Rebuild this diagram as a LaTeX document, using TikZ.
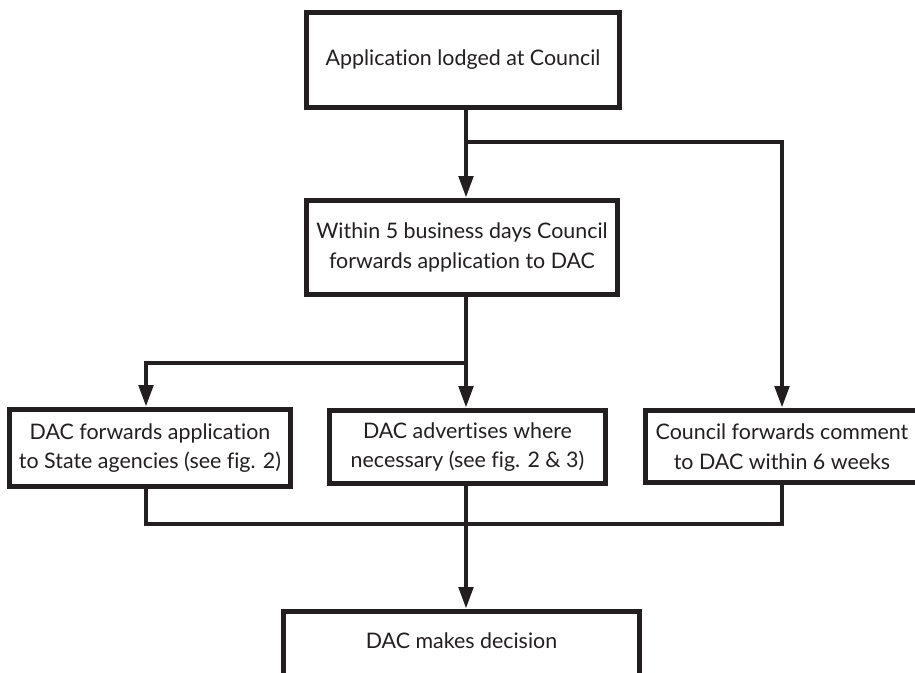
\documentclass[tikz,border=0pt]{standalone}
\usepackage{fontspec}
\setmainfont{Lato}[Ligatures=NoCommon]
\usetikzlibrary{arrows.meta}
\definecolor{ink}{HTML}{231F20}
\tikzset{
  stagebox/.style={draw=ink, line width=5pt, fill=white, inner sep=0pt,
    align=center, text=ink, font=\fontsize{21.4}{29.5}\selectfont},
  link/.style={draw=ink, line width=4.8pt, line join=miter},
  arrowlink/.style={link, -{Triangle[length=22pt,width=14pt]}},
}
\begin{document}
\begin{tikzpicture}[x=1pt,y=-1pt]
  \useasboundingbox (0,0) rectangle (915,672);
  \clip (0,0) rectangle (915,672);

  % stages of the process
  \node[stagebox, minimum width=313pt, minimum height=95pt] (lodge) at (463,60)
    {Application lodged at Council};
  \node[stagebox, minimum width=311pt, minimum height=94pt] (fwd) at (462,247.5)
    {Within 5 business days Council\\forwards application to DAC};
  \node[stagebox, minimum width=281pt, minimum height=77pt] (agency) at (150,448)
    {DAC forwards application\\to State agencies (see fig. 2)};
  \node[stagebox, minimum width=276pt, minimum height=73pt] (advert) at (467.5,447)
    {DAC advertises where\\necessary (see fig. 2 \& 3)};
  \node[stagebox, minimum width=273pt, minimum height=72pt] (comment) at (782,446.5)
    {Council forwards comment\\to DAC within 6 weeks};
  \node[stagebox, minimum width=356pt, minimum height=86pt, text height=15pt, text depth=28pt]
    (decide) at (461.5,654.5) {DAC makes decision};

  % routing columns and junctions
  \coordinate (cx) at (466,0);
  \coordinate (lx) at (146,0);
  \coordinate (split1) at (466,142);
  \coordinate (split2) at (466,363);
  \coordinate (merge) at (466,524);

  % connectors
  \draw[arrowlink] (lodge.south -| cx) -- (fwd.north -| cx);
  \draw[arrowlink] (split1) -| (comment.north);
  \draw[link] (fwd.south -| cx) -- (split2);
  \draw[arrowlink] (split2) -- (advert.north -| cx);
  \draw[arrowlink] (split2) -| (agency.north -| lx);
  \draw[link] (agency.south -| lx) |- (merge -| comment.south) -- (comment.south);
  \draw[arrowlink] (advert.south -| cx) -- (decide.north -| cx);
\end{tikzpicture}
\end{document}
